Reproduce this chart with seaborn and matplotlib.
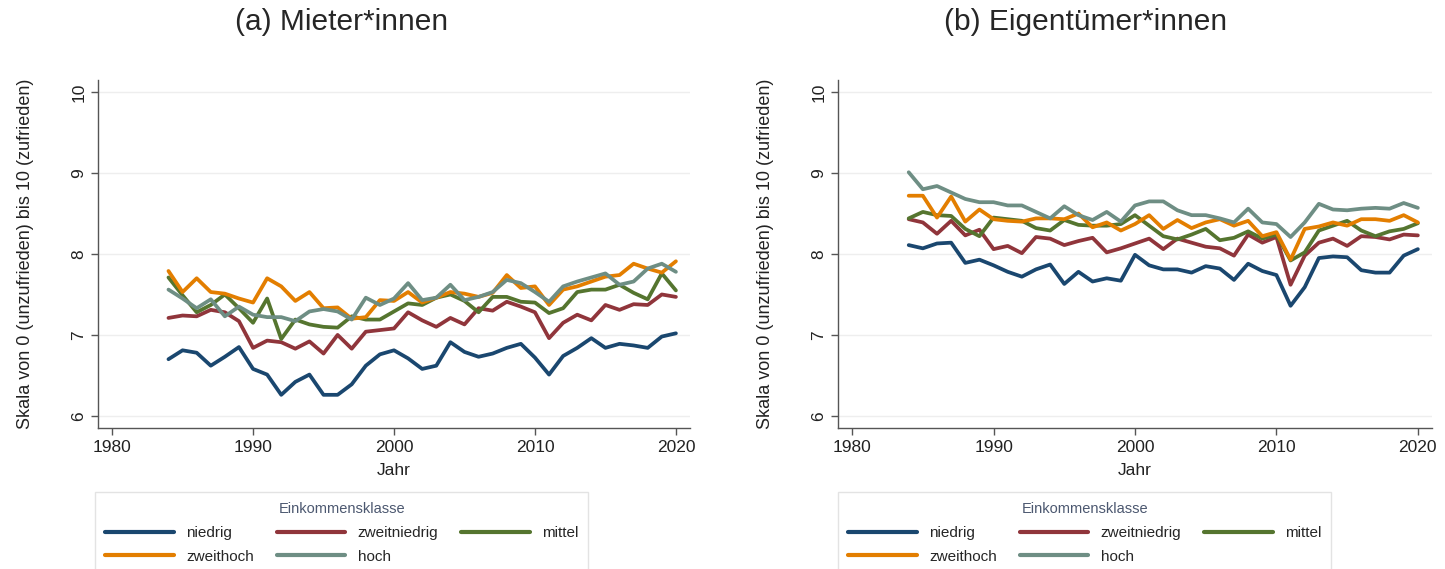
import matplotlib
matplotlib.use("Agg")
import matplotlib.pyplot as plt
import numpy as np
import pandas as pd
import seaborn as sns

years = list(range(1984, 2021))
classes = ["niedrig", "zweitniedrig", "mittel", "zweithoch", "hoch"]
colors = ["#1a476f", "#90353b", "#55752f", "#e37e00", "#6e8e84"]

# (a) Mieter*innen
miet_niedrig = [6.70, 6.81, 6.78, 6.62, 6.73, 6.85, 6.58, 6.51, 6.26, 6.42, 6.51, 6.26, 6.26,
                6.39, 6.62, 6.76, 6.81, 6.71, 6.58, 6.62, 6.91, 6.79, 6.73, 6.77, 6.84, 6.89,
                6.72, 6.51, 6.74, 6.84, 6.96, 6.84, 6.89, 6.87, 6.84, 6.98, 7.02]
miet_zweitniedrig = [7.21, 7.24, 7.23, 7.31, 7.28, 7.17, 6.84, 6.93, 6.91, 6.83, 6.92, 6.77, 7.00,
                     6.83, 7.04, 7.06, 7.08, 7.28, 7.18, 7.10, 7.21, 7.13, 7.33, 7.30, 7.41, 7.35,
                     7.28, 6.96, 7.15, 7.25, 7.18, 7.37, 7.31, 7.38, 7.37, 7.50, 7.47]
miet_mittel = [7.71, 7.49, 7.28, 7.37, 7.50, 7.33, 7.15, 7.45, 6.95, 7.19, 7.13, 7.10, 7.09,
               7.23, 7.19, 7.19, 7.29, 7.39, 7.37, 7.46, 7.50, 7.42, 7.28, 7.47, 7.47, 7.41,
               7.40, 7.27, 7.33, 7.53, 7.56, 7.56, 7.62, 7.52, 7.44, 7.76, 7.55]
miet_zweithoch = [7.79, 7.53, 7.70, 7.53, 7.51, 7.45, 7.40, 7.70, 7.60, 7.42, 7.53, 7.33, 7.34,
                  7.20, 7.22, 7.43, 7.42, 7.53, 7.40, 7.46, 7.53, 7.51, 7.47, 7.52, 7.74, 7.58,
                  7.60, 7.37, 7.56, 7.60, 7.66, 7.72, 7.74, 7.88, 7.82, 7.77, 7.91]
miet_hoch = [7.56, 7.45, 7.33, 7.44, 7.23, 7.35, 7.25, 7.22, 7.22, 7.17, 7.29, 7.32, 7.29,
             7.19, 7.46, 7.37, 7.45, 7.64, 7.43, 7.46, 7.62, 7.43, 7.47, 7.53, 7.68, 7.64,
             7.53, 7.41, 7.60, 7.66, 7.71, 7.76, 7.62, 7.66, 7.82, 7.88, 7.78]

# (b) Eigentümer*innen
eig_niedrig = [8.11, 8.07, 8.13, 8.14, 7.89, 7.93, 7.86, 7.78, 7.72, 7.81, 7.87, 7.63, 7.78,
               7.66, 7.70, 7.67, 7.99, 7.86, 7.81, 7.81, 7.77, 7.85, 7.82, 7.68, 7.88, 7.79,
               7.74, 7.36, 7.59, 7.95, 7.97, 7.96, 7.80, 7.77, 7.77, 7.98, 8.06]
eig_zweitniedrig = [8.43, 8.39, 8.25, 8.41, 8.23, 8.30, 8.06, 8.10, 8.01, 8.21, 8.19, 8.11, 8.16,
                    8.20, 8.02, 8.07, 8.13, 8.19, 8.06, 8.19, 8.14, 8.09, 8.07, 7.98, 8.24, 8.14,
                    8.21, 7.62, 7.98, 8.14, 8.19, 8.10, 8.22, 8.21, 8.18, 8.24, 8.23]
eig_mittel = [8.44, 8.52, 8.48, 8.47, 8.31, 8.22, 8.45, 8.43, 8.41, 8.32, 8.29, 8.42, 8.36,
              8.35, 8.35, 8.37, 8.48, 8.35, 8.22, 8.18, 8.24, 8.31, 8.17, 8.20, 8.28, 8.19,
              8.24, 7.92, 8.02, 8.29, 8.35, 8.41, 8.29, 8.22, 8.28, 8.31, 8.38]
eig_zweithoch = [8.72, 8.72, 8.45, 8.71, 8.40, 8.55, 8.43, 8.41, 8.40, 8.44, 8.44, 8.43, 8.50,
                 8.33, 8.39, 8.29, 8.37, 8.48, 8.31, 8.42, 8.32, 8.39, 8.43, 8.35, 8.41, 8.22,
                 8.27, 7.93, 8.31, 8.34, 8.39, 8.35, 8.43, 8.43, 8.41, 8.48, 8.39]
eig_hoch = [9.01, 8.80, 8.84, 8.76, 8.68, 8.64, 8.64, 8.60, 8.60, 8.52, 8.44, 8.59, 8.48,
            8.42, 8.52, 8.40, 8.60, 8.65, 8.65, 8.54, 8.48, 8.48, 8.44, 8.39, 8.56, 8.39,
            8.37, 8.21, 8.39, 8.62, 8.55, 8.54, 8.56, 8.57, 8.56, 8.63, 8.57]

panels = [
    ("(a) Mieter*innen", [miet_niedrig, miet_zweitniedrig, miet_mittel, miet_zweithoch, miet_hoch]),
    ("(b) Eigentümer*innen", [eig_niedrig, eig_zweitniedrig, eig_mittel, eig_zweithoch, eig_hoch]),
]


def long_frame(series):
    rows = []
    for cls, vals in zip(classes, series):
        for y, v in zip(years, vals):
            rows.append({"Jahr": y, "Wert": v, "Klasse": cls})
    return pd.DataFrame(rows)


sns.set_style("white")
plt.rcParams["font.family"] = ["Liberation Sans", "DejaVu Sans"]

fig = plt.figure(figsize=(14.45, 5.69), dpi=100)
lefts = [98 / 1445, 838 / 1445]
widths = [(690 - 98) / 1445, (1432 - 838) / 1445]
title_x = [342 / 1445, 1086 / 1445]
legend_x = [95 / 1445, 838 / 1445]

for i, (title, series) in enumerate(panels):
    ax = fig.add_axes([lefts[i], 1 - 428 / 569, widths[i], (428 - 80) / 569])
    df = long_frame(series)
    sns.lineplot(data=df, x="Jahr", y="Wert", hue="Klasse", hue_order=classes,
                 palette=colors, linewidth=2.7, ax=ax, legend=True)
    ax.set_xlim(1979, 2021)
    ax.set_ylim(5.85, 10.15)
    ax.set_xticks([1980, 1990, 2000, 2010, 2020])
    ax.set_yticks([6, 7, 8, 9, 10])
    ax.grid(axis="y", color="#eeeeee", linewidth=1)
    ax.set_axisbelow(True)
    for s in ["top", "right"]:
        ax.spines[s].set_visible(False)
    for s in ["left", "bottom"]:
        ax.spines[s].set_color("#555555")
        ax.spines[s].set_linewidth(1.0)
    ax.tick_params(axis="both", direction="out", length=5, width=1, color="#555555",
                   labelsize=12.5, labelcolor="#222222", bottom=True, left=True)
    for lab in ax.get_yticklabels():
        lab.set_rotation(90)
        lab.set_va("center")
    ax.set_xlabel("Jahr", fontsize=12.5, labelpad=6, color="#222222")
    ax.set_ylabel("Skala von 0 (unzufrieden) bis 10 (zufrieden)", fontsize=13,
                  labelpad=27, color="#222222")
    fig.text(title_x[i], 1 - 22 / 569, title, ha="center", va="center", fontsize=21.5)

    handles, labels = ax.get_legend_handles_labels()
    ax.get_legend().remove()
    # row-major order for 3 columns
    order = [0, 3, 1, 4, 2]
    leg = fig.legend([handles[k] for k in order], [labels[k] for k in order],
                     loc="upper left", bbox_to_anchor=(legend_x[i], 1 - 492 / 569),
                     borderaxespad=0, ncol=3, fontsize=11, title="Einkommensklasse",
                     title_fontsize=10.5, frameon=True, fancybox=False, edgecolor="#dddddd",
                     handlelength=4.5, handletextpad=0.8, columnspacing=1.5,
                     labelspacing=0.65, borderpad=0.65)
    leg.get_title().set_color("#4c5870")
    leg.get_frame().set_linewidth(1.0)
    for ln in leg.get_lines():
        ln.set_linewidth(3)

fig.savefig("out.png", dpi=100)
